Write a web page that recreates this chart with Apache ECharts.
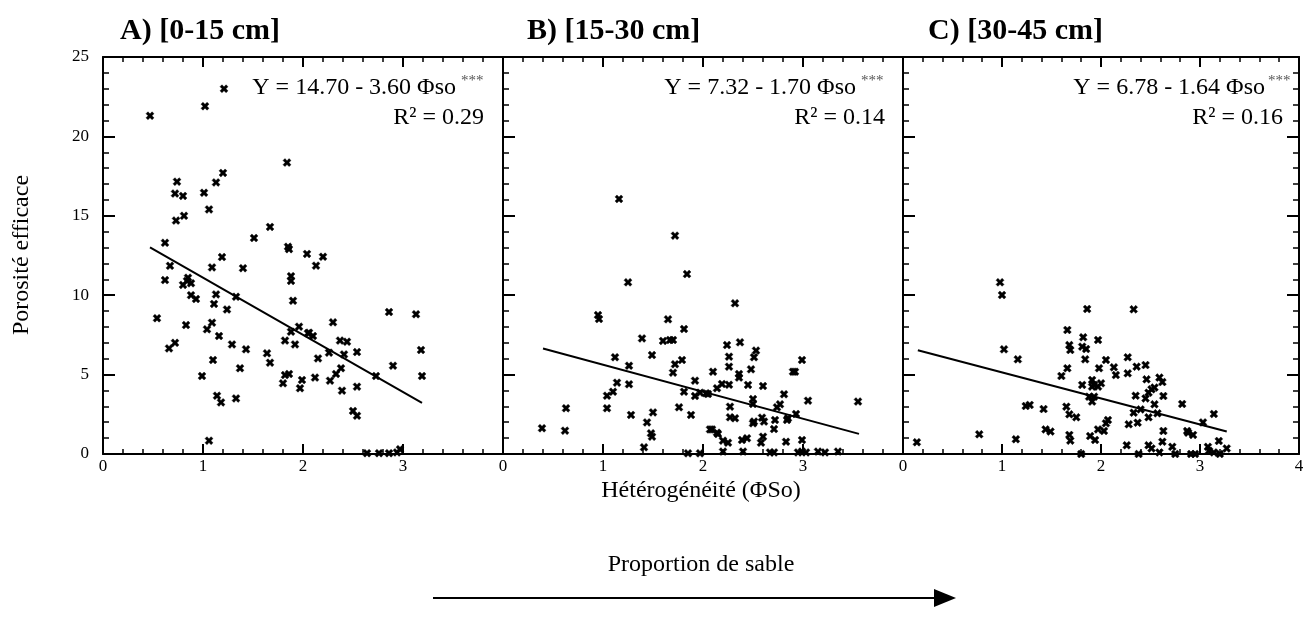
<!DOCTYPE html>
<html><head><meta charset="utf-8">
<script src="https://cdn.jsdelivr.net/npm/echarts@6/dist/echarts.min.js"></script>
<style>html,body{margin:0;padding:0;background:#fff}#c{width:1308px;height:637px}</style>
</head><body><div id="c"></div>
<script>
// ---- data ----
const panelTitles = ["A) [0-15 cm]", "B) [15-30 cm]", "C) [30-45 cm]"];
const equations = ["Y = 14.70 - 3.60 Φso", "Y = 7.32 - 1.70 Φso", "Y = 6.78 - 1.64 Φso"];
const r2Labels = ["R² = 0.29", "R² = 0.14", "R² = 0.16"];
const intercepts = [14.70, 7.32, 6.78];
const slopes = [-3.60, -1.70, -1.64];
const fitRanges = [[0.47, 3.19], [0.40, 3.56], [0.15, 3.27]];
const xTicks = [0, 1, 2, 3, 4];
const yTicks = [0, 5, 10, 15, 20, 25];
const dataA = [[0.47,21.3],[1.02,21.9],[1.21,23.0],[1.84,18.35],[0.74,17.15],[0.72,16.4],[0.80,16.25],[1.01,16.45],[1.13,17.1],[1.20,17.7],[1.06,15.4],[0.73,14.7],[0.81,15.0],[0.62,13.3],[1.51,13.6],[1.67,14.3],[1.85,13.05],[1.86,12.9],[2.04,12.6],[1.19,12.4],[1.09,11.75],[1.40,11.7],[0.67,11.85],[0.62,10.95],[0.85,11.1],[0.80,10.65],[0.88,10.75],[0.84,10.9],[0.88,10.0],[0.93,9.76],[1.13,10.05],[1.11,9.45],[1.33,9.9],[1.24,9.1],[0.54,8.55],[0.83,8.12],[1.09,8.27],[1.04,7.85],[1.16,7.43],[0.66,6.65],[0.72,7.0],[1.29,6.9],[1.43,6.59],[1.64,6.34],[1.67,5.75],[1.10,5.92],[1.37,5.40],[0.99,4.91],[1.80,4.45],[1.82,4.97],[1.86,5.04],[1.97,4.14],[1.99,4.66],[1.14,3.67],[1.18,3.25],[1.33,3.5],[1.06,0.84],[1.82,7.14],[1.88,7.7],[1.92,6.9],[1.96,8.02],[1.90,9.65],[1.88,11.2],[1.88,10.9],[2.05,7.6],[2.20,12.42],[2.13,11.86],[2.06,7.64],[2.10,7.43],[2.30,8.29],[2.37,7.14],[2.44,7.07],[2.26,6.38],[2.41,6.27],[2.54,6.42],[2.15,6.02],[2.38,5.40],[2.33,5.04],[2.27,4.62],[2.12,4.81],[2.39,3.99],[2.54,4.24],[2.73,4.91],[2.86,8.94],[3.13,8.80],[3.18,6.55],[2.90,5.56],[3.19,4.91],[2.50,2.71],[2.54,2.41],[2.64,0.05],[2.76,0.05],[2.86,0.05],[2.94,0.1],[2.97,0.3]];
const dataB = [[1.16,16.06],[1.72,13.75],[1.25,10.81],[1.84,11.33],[0.95,8.75],[0.96,8.5],[1.65,8.48],[1.81,7.87],[1.39,7.28],[1.60,7.12],[1.67,7.18],[1.70,7.18],[1.49,6.23],[1.12,6.09],[1.79,5.92],[1.72,5.65],[1.70,5.12],[1.26,5.56],[1.26,4.39],[1.14,4.49],[1.10,3.92],[1.04,3.67],[1.04,2.88],[1.92,4.62],[1.81,3.92],[1.92,3.65],[1.97,3.86],[2.03,3.82],[1.76,2.94],[1.88,2.46],[1.28,2.46],[1.50,2.62],[1.44,1.99],[1.48,1.30],[1.49,1.09],[1.41,0.42],[0.63,2.88],[0.39,1.62],[0.62,1.47],[1.85,0.04],[1.97,0.04],[2.07,1.55],[2.32,9.49],[2.24,6.86],[2.37,7.03],[2.53,6.51],[2.51,6.09],[2.26,6.13],[2.26,5.50],[2.10,5.18],[2.48,5.33],[2.99,5.92],[2.90,5.18],[2.92,5.18],[2.36,5.04],[2.36,4.81],[2.19,4.41],[2.14,4.14],[2.26,4.36],[2.45,4.35],[2.60,4.28],[2.05,3.78],[2.50,3.46],[2.50,3.15],[2.81,3.76],[2.77,3.13],[2.74,2.94],[3.05,3.36],[2.27,2.98],[2.27,2.31],[2.32,2.25],[2.50,1.93],[2.51,2.04],[2.59,2.29],[2.61,2.04],[2.72,2.14],[2.71,1.57],[2.84,2.14],[2.85,2.25],[2.93,2.52],[3.55,3.30],[2.09,1.55],[2.14,1.34],[2.15,1.26],[2.20,0.84],[2.25,0.71],[2.39,0.88],[2.44,0.99],[2.58,0.71],[2.60,1.09],[2.83,0.77],[2.99,0.88],[2.20,0.15],[2.40,0.15],[2.67,0.1],[2.71,0.1],[2.95,0.1],[2.99,0.15],[3.03,0.1],[3.15,0.15],[3.22,0.1],[3.35,0.15]];
const dataC = [[0.98,10.81],[1.00,10.01],[1.02,6.59],[1.16,5.96],[1.86,9.13],[1.66,7.81],[1.68,6.86],[1.69,6.55],[1.82,7.35],[1.85,6.61],[1.81,6.76],[1.97,7.18],[1.84,5.96],[2.05,5.92],[1.98,5.40],[1.66,5.40],[1.60,4.91],[1.81,4.35],[1.91,4.66],[1.93,4.35],[1.97,4.24],[2.00,4.45],[1.91,4.24],[1.88,3.61],[1.93,3.61],[1.91,3.30],[1.24,3.02],[1.28,3.09],[1.42,2.83],[1.65,2.98],[1.68,2.50],[1.75,2.31],[1.44,1.55],[1.49,1.41],[0.77,1.24],[1.14,0.93],[0.14,0.74],[1.68,1.2],[1.69,0.84],[1.89,1.13],[1.94,0.88],[1.80,0.0],[1.97,1.55],[2.03,1.45],[2.05,1.93],[2.33,9.11],[2.27,6.09],[2.27,5.08],[2.36,5.50],[2.45,5.60],[2.13,5.46],[2.15,4.97],[2.46,4.70],[2.59,4.81],[2.62,4.53],[2.35,3.67],[2.48,3.86],[2.45,3.50],[2.51,4.07],[2.54,4.18],[2.63,3.65],[2.54,3.13],[2.82,3.15],[2.40,2.81],[2.33,2.60],[2.48,2.31],[2.57,2.56],[2.28,1.87],[2.37,1.97],[3.14,2.52],[3.03,1.99],[2.87,1.45],[2.88,1.34],[2.93,1.2],[2.63,1.45],[2.62,0.77],[3.19,0.82],[2.07,2.14],[2.26,0.55],[2.38,0.0],[2.48,0.55],[2.51,0.35],[2.59,0.1],[2.72,0.45],[2.75,0.0],[2.91,0.0],[2.95,0.0],[3.08,0.45],[3.09,0.2],[3.14,0.1],[3.20,0.0],[3.27,0.35]];
const yAxisTitle = "Porosité efficace";
const xAxisTitle = "Hétérogénéité (ΦSo)";
const bottomNote = "Proportion de sable";

// ---- layout ----
const SERIF = "'Liberation Serif', 'Times New Roman', serif";
const panelDatas = [dataA, dataB, dataC];
const grids = [
  {left: 103, top: 57, width: 400, height: 397},
  {left: 503, top: 57, width: 400, height: 397},
  {left: 903, top: 57, width: 396, height: 397}
];
const crossSymbol = 'path://M0,2.4 L2.4,0 L5,2.6 L7.6,0 L10,2.4 L7.4,5 L10,7.6 L7.6,10 L5,7.4 L2.4,10 L0,7.6 L2.6,5 Z';
const axisLineStyle = {show: true, onZero: false, lineStyle: {color: '#000', width: 2}};

const xAxes = [], yAxes = [], series = [];
grids.forEach((g, i) => {
  const showLast = (i === 2);
  xAxes.push({
    type: 'value', gridIndex: i, position: 'bottom', min: xTicks[0], max: xTicks[xTicks.length - 1], interval: 1,
    axisLine: axisLineStyle,
    axisTick: {show: true, inside: true, length: 10, lineStyle: {color: '#000', width: 2}},
    minorTick: {show: true, splitNumber: 5, length: 5, lineStyle: {color: '#000', width: 1.5}},
    splitLine: {show: false},
    axisLabel: {show: true, color: '#000', fontFamily: SERIF, fontSize: 17, margin: 4,
      showMaxLabel: showLast, formatter: v => String(v)}
  });
  xAxes.push({
    type: 'value', gridIndex: i, position: 'top', min: xTicks[0], max: xTicks[xTicks.length - 1], interval: 1,
    axisLine: axisLineStyle,
    axisTick: {show: true, inside: true, length: 10, lineStyle: {color: '#000', width: 2}},
    minorTick: {show: true, splitNumber: 5, length: 5, lineStyle: {color: '#000', width: 1.5}},
    splitLine: {show: false}, axisLabel: {show: false}
  });
  yAxes.push({
    type: 'value', gridIndex: i, position: 'left', min: yTicks[0], max: yTicks[yTicks.length - 1], interval: 5,
    axisLine: axisLineStyle,
    axisTick: {show: true, inside: true, length: 12, lineStyle: {color: '#000', width: 2}},
    minorTick: {show: true, splitNumber: 5, length: 6, lineStyle: {color: '#000', width: 1.5}},
    splitLine: {show: false},
    axisLabel: {show: i === 0, color: '#000', fontFamily: SERIF, fontSize: 17, margin: 14}
  });
  yAxes.push({
    type: 'value', gridIndex: i, position: 'right', min: yTicks[0], max: yTicks[yTicks.length - 1], interval: 5,
    axisLine: axisLineStyle,
    axisTick: {show: showLast, inside: true, length: 12, lineStyle: {color: '#000', width: 2}},
    minorTick: {show: showLast, splitNumber: 5, length: 6, lineStyle: {color: '#000', width: 1.5}},
    splitLine: {show: false}, axisLabel: {show: false}
  });
  series.push({
    type: 'scatter', xAxisIndex: i * 2, yAxisIndex: i * 2, data: panelDatas[i],
    symbol: crossSymbol, symbolSize: 8, clip: false,
    itemStyle: {color: '#000', borderColor: '#000', borderWidth: 0.4, opacity: 1}, z: 3
  });
  const fit = fitRanges[i].map(x => [x, intercepts[i] + slopes[i] * x]);
  series.push({
    type: 'line', xAxisIndex: i * 2, yAxisIndex: i * 2, data: fit, symbol: 'none',
    lineStyle: {color: '#000', width: 2}, z: 2
  });
});

const eqRight = [456, 856, 1265];
const starLeft = [461, 861, 1268];
const r2Right = [484, 885, 1283];
const titleLeft = [120, 527, 928];
const graphic = [];
panelTitles.forEach((t, i) => {
  graphic.push({type: 'text', style: {text: t, x: titleLeft[i], y: 31, textVerticalAlign: 'middle',
    font: 'bold 30px ' + SERIF, fill: '#000'}});
  graphic.push({type: 'text', style: {text: equations[i], x: eqRight[i], y: 88, textAlign: 'right', textVerticalAlign: 'middle',
    font: '24px ' + SERIF, fill: '#000'}});
  graphic.push({type: 'text', style: {text: '***', x: starLeft[i], y: 81, textAlign: 'left', textVerticalAlign: 'middle',
    font: '15px ' + SERIF, fill: '#555'}});
  graphic.push({type: 'text', style: {text: r2Labels[i], x: r2Right[i], y: 118, textAlign: 'right', textVerticalAlign: 'middle',
    font: '24px ' + SERIF, fill: '#000'}});
});
graphic.push({type: 'text', rotation: Math.PI / 2, x: 22, y: 255,
  style: {text: yAxisTitle, x: 0, y: 0, textAlign: 'center', textVerticalAlign: 'middle', font: '24px ' + SERIF, fill: '#000'}});
graphic.push({type: 'text', style: {text: xAxisTitle, x: 701, y: 491, textAlign: 'center', textVerticalAlign: 'middle',
  font: '24px ' + SERIF, fill: '#000'}});
graphic.push({type: 'text', style: {text: bottomNote, x: 701, y: 565, textAlign: 'center', textVerticalAlign: 'middle',
  font: '24px ' + SERIF, fill: '#000'}});
graphic.push({type: 'line', shape: {x1: 433, y1: 598, x2: 940, y2: 598}, style: {stroke: '#000', lineWidth: 2}});
graphic.push({type: 'polygon', shape: {points: [[934, 589], [956, 598], [934, 607]]}, style: {fill: '#000'}});

const chart = echarts.init(document.getElementById('c'), null, {renderer: 'canvas'});
chart.setOption({
  backgroundColor: '#fff',
  animation: false,
  grid: grids,
  xAxis: xAxes,
  yAxis: yAxes,
  series: series,
  graphic: graphic
});
</script></body></html>
